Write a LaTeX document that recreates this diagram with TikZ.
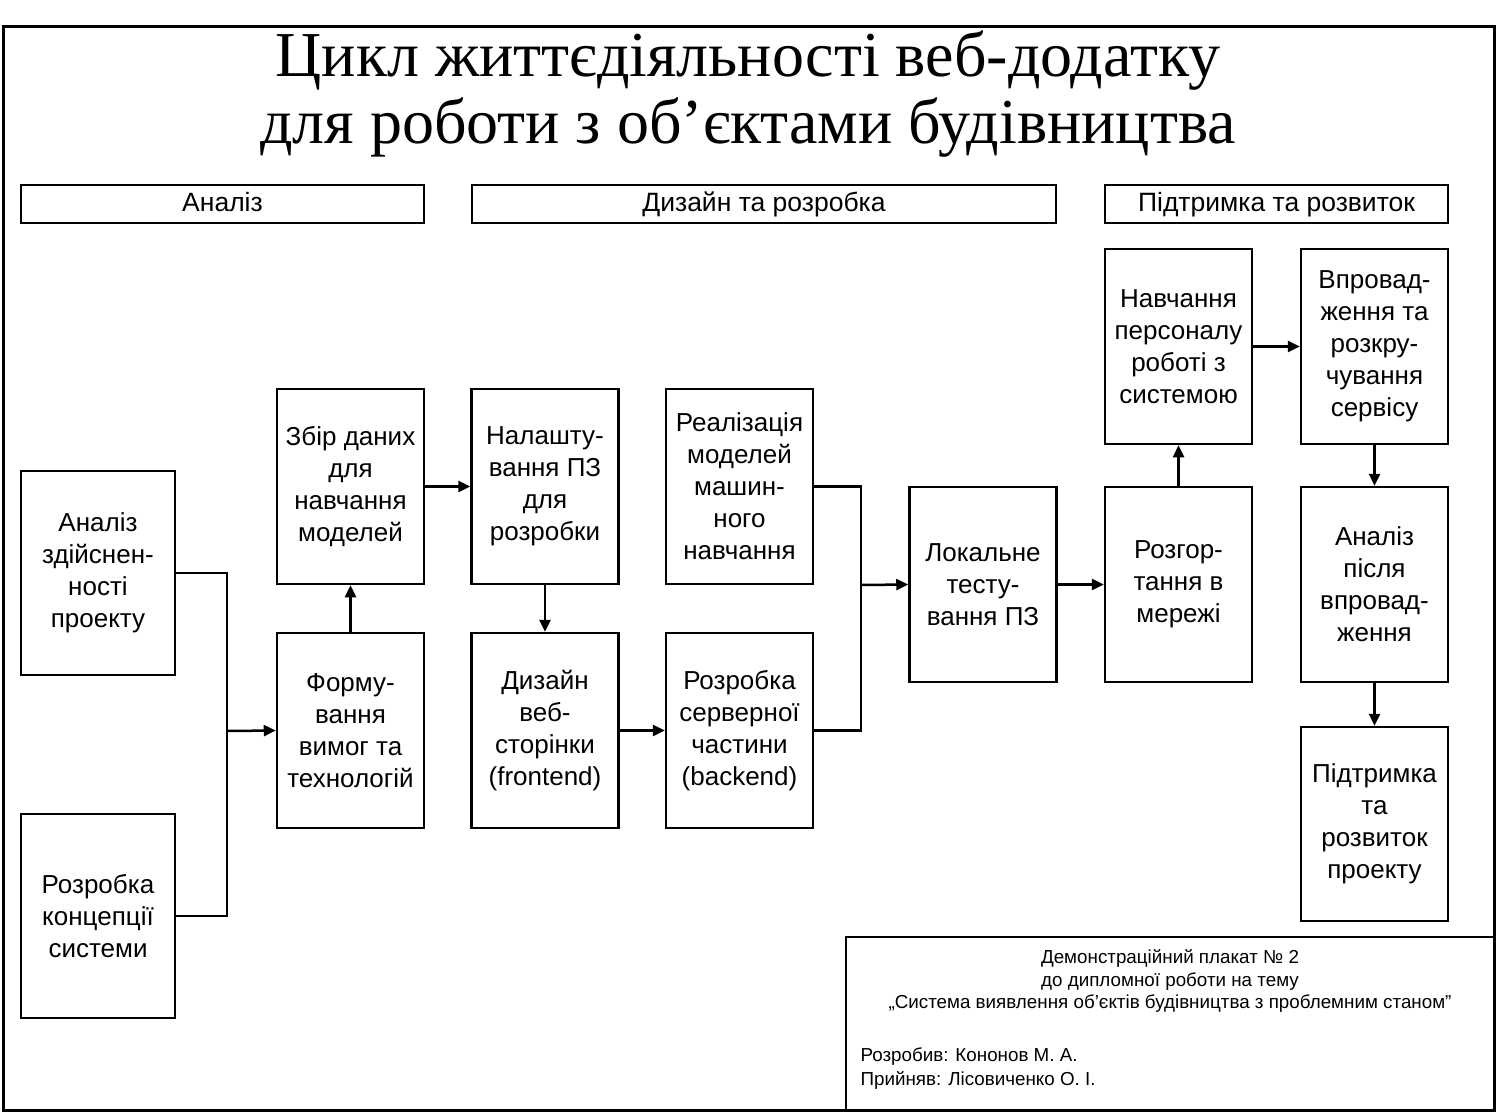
\documentclass[tikz,border=0pt]{standalone}
\usepackage{fontspec}
\setmainfont{Liberation Sans}
\newfontfamily\titlefont{Liberation Serif}
\usetikzlibrary{arrows.meta,positioning}

\begin{document}
\begin{tikzpicture}[x=1pt,y=-1pt,
  every node/.style={font=\fontsize{26}{32}\selectfont},
  stage/.style={draw,line width=2.5pt,minimum width=147pt,minimum height=195pt,
                align=center,inner sep=1pt},
  phase/.style={draw,line width=2.5pt,minimum height=38pt,inner sep=0pt,
                text height=20pt,text depth=5pt,font=\fontsize{26.5}{32}\selectfont},
  arr/.style={-{Triangle[length=12pt,width=11pt]},line width=2.5pt},
  lnk/.style={line width=2.5pt},
]
\useasboundingbox (0,0) rectangle (1496,1113);

%% Outer frame and title
\draw[line width=3pt] (3,27) rectangle (1494,1110);
\node[align=center,font=\titlefont\fontsize{64}{67}\selectfont] (title) at (748,94)
  {Цикл життєдіяльності веб-додатку\\для роботи з об’єктами будівництва};

%% Phase headers
\node[phase,minimum width=403pt] (hAn) at (222.5,204) {Аналіз};
\node[phase,minimum width=584pt] (hDes) at (764,204) {Дизайн та розробка};
\node[phase,minimum width=343pt] (hSup) at (1276.5,204) {Підтримка та розвиток};

%% Analysis
\node[stage,minimum width=154pt,minimum height=204pt] (A1) at (98,573)
  {Аналіз\\здійснен-\\ності\\проекту};
\node[stage,minimum width=154pt,minimum height=204pt] (A2) at (98,916)
  {Розробка\\концепції\\системи};

%% Design and development
\node[stage] (B1) at (350.5,486.5) {Збір даних\\для\\навчання\\моделей};
\node[stage] (B2) at (350.5,730.5) {Форму-\\вання\\вимог та\\технологій};
\node[stage] (C1) at (545,486.5) {Налашту-\\вання ПЗ\\для\\розробки};
\node[stage] (C2) at (545,730.5) {Дизайн\\веб-\\сторінки\\(frontend)};
\node[stage] (D1) at (739.5,486.5) {Реалізація\\моделей\\машин-\\ного\\навчання};
\node[stage] (D2) at (739.5,730.5) {Розробка\\серверної\\частини\\(backend)};
\node[stage] (E) at (983,584.5) {Локальне\\тесту-\\вання ПЗ};

%% Support and growth
\node[stage] (F1) at (1178.5,584.5) {Розгор-\\тання в\\мережі};
\node[stage] (F2) at (1178.5,346.5) {Навчання\\персоналу\\роботі з\\системою};
\node[stage] (G1) at (1374.5,346.5) {Впровад-\\ження та\\розкру-\\чування\\сервісу};
\node[stage] (G2) at (1374.5,584.5) {Аналіз\\після\\впровад-\\ження};
\node[stage,minimum height=194pt] (G3) at (1374.5,824) {Підтримка\\та\\розвиток\\проекту};

%% Connectors
\coordinate (jA) at (227,731);
\coordinate (jD) at (861,585);
\draw[lnk] (A1.east) -| (jA);
\draw[lnk] (A2.east) -| (jA);
\draw[arr] (jA) -- (B2.west);
\draw[arr] (B2.north) -- (B1.south);
\draw[arr] (B1.east) -- (C1.west);
\draw[arr] (C1.south) -- (C2.north);
\draw[arr] (C2.east) -- (D2.west);
\draw[lnk] (D1.east) -| (jD);
\draw[lnk] (D2.east) -| (jD);
\draw[arr] (jD) -- (E.west);
\draw[arr] (E.east) -- (F1.west);
\draw[arr] (F1.north) -- (F2.south);
\draw[arr] (F2.east) -- (G1.west);
\draw[arr] (G1.south) -- (G2.north);
\draw[arr] (G2.south) -- (G3.north);

%% Stamp
\draw[line width=2.5pt] (846,937) rectangle (1494,1110);
\node[align=center,font=\fontsize{18.8}{22.5}\selectfont] (stamp) at (1170,981)
  {Демонстраційний плакат № 2\\до дипломної роботи на тему\\„Система виявлення об’єктів будівництва з проблемним станом”};
\node[anchor=west,align=left,font=\fontsize{18.8}{24}\selectfont] (sign) at (857,1069)
  {Розробив: Кононов М. А.\\Прийняв: Лісовиченко О. І.};

\end{tikzpicture}
\end{document}
